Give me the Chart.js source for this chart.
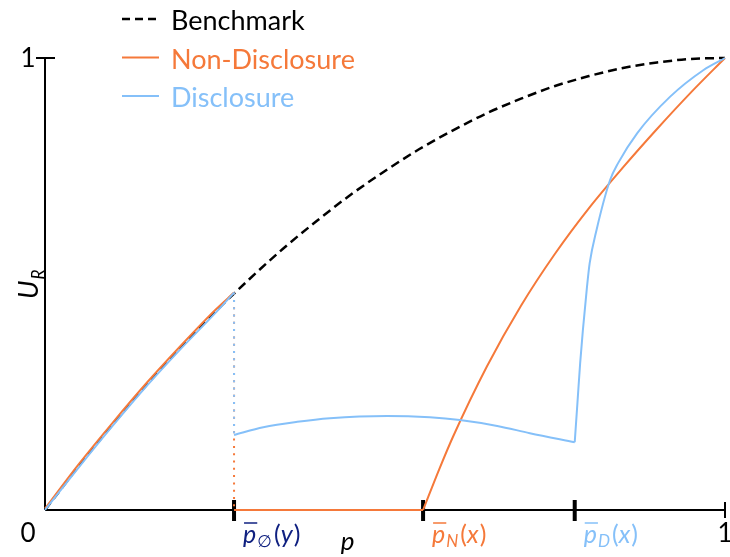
<!DOCTYPE html>
<html><head><meta charset="utf-8">
<script src="https://cdn.jsdelivr.net/npm/chart.js@4/dist/chart.umd.min.js"></script>
<style>html,body{margin:0;padding:0;background:#fff}canvas{display:block}</style>
</head><body>
<canvas id="c" width="730" height="557"></canvas>
<script>
// Benchmark utility curve
const benchmarkP = [0, 0.05, 0.10, 0.15, 0.20, 0.25, 0.30, 0.35, 0.40, 0.45, 0.50, 0.55, 0.60, 0.65, 0.70, 0.75, 0.80, 0.85, 0.90, 0.95, 1.00];
const benchmarkU = [0, 0.098, 0.19, 0.278, 0.36, 0.438, 0.51, 0.578, 0.64, 0.698, 0.75, 0.798, 0.84, 0.878, 0.91, 0.938, 0.96, 0.978, 0.99, 0.998, 1];

// Non-disclosure regime: below the first threshold, and above the second
const nonDisclosureLowP = [0, 0.05, 0.10, 0.15, 0.20, 0.25, 0.278];
const nonDisclosureLowU = [0.003, 0.102, 0.194, 0.282, 0.364, 0.442, 0.481];
const nonDisclosureHighP = [0.556, 0.58, 0.60, 0.65, 0.70, 0.75, 0.80, 0.85, 0.90, 0.95, 1];
const nonDisclosureHighU = [0, 0.091, 0.162, 0.318, 0.452, 0.567, 0.668, 0.758, 0.843, 0.924, 1];

// Disclosure regime: three pieces
const disclosureLowP = [0, 0.05, 0.10, 0.15, 0.20, 0.25, 0.278];
const disclosureLowU = [0, 0.095, 0.187, 0.275, 0.357, 0.435, 0.481];
const disclosureMidP = [0.278, 0.321, 0.371, 0.419, 0.503, 0.566, 0.610, 0.665, 0.713, 0.779];
const disclosureMidU = [0.166, 0.183, 0.195, 0.203, 0.208, 0.205, 0.199, 0.186, 0.170, 0.150];
const disclosureHighP = [0.779, 0.783, 0.787, 0.791, 0.797, 0.801, 0.811, 0.831, 0.843, 0.871, 0.919, 0.968, 1];
const disclosureHighU = [0.150, 0.237, 0.325, 0.398, 0.493, 0.546, 0.619, 0.730, 0.768, 0.834, 0.914, 0.973, 1];

// Threshold positions on the p axis
const thresholdP = [0.278, 0.556, 0.779];
const thresholdSub = ['\u2205', 'N', 'D'];
const thresholdArg = ['y', 'x', 'x'];

const seriesNames = ['Benchmark', 'Non-Disclosure', 'Disclosure'];

const ORANGE = '#F5793A';
const BLUE = '#85C0F9';
const NAVY = '#0F2080';
const FONT = 'Lato, "DejaVu Sans", sans-serif';

const toPoints = (xs, ys) => xs.map((x, i) => ({x, y: ys[i]}));
const last = a => a[a.length - 1];

const solid = (label, pts, color, order) => ({
  label, data: pts, borderColor: color, borderWidth: 2, pointRadius: 0,
  cubicInterpolationMode: 'monotone', clip: false, order
});
const dotted = (label, pts, color, order) => ({
  label, data: pts, borderColor: color, borderWidth: 2, pointRadius: 0,
  borderDash: [2, 5.3], tension: 0, clip: false, order
});

const datasets = [
  // disclosure (drawn on top)
  solid(seriesNames[2], toPoints(disclosureLowP, disclosureLowU), BLUE, 0),
  dotted(seriesNames[2], [{x: thresholdP[0], y: last(disclosureLowU)}, {x: thresholdP[0], y: disclosureMidU[0]}], BLUE, 0),
  solid(seriesNames[2], toPoints(disclosureMidP, disclosureMidU), BLUE, 0),
  solid(seriesNames[2], toPoints(disclosureHighP, disclosureHighU), BLUE, 0),
  // non-disclosure
  solid(seriesNames[1], toPoints(nonDisclosureLowP, nonDisclosureLowU), ORANGE, 1),
  dotted(seriesNames[1], [{x: thresholdP[0], y: last(nonDisclosureLowU)}, {x: thresholdP[0], y: 0}], ORANGE, 1),
  solid(seriesNames[1], [{x: thresholdP[0], y: 0}, {x: thresholdP[1], y: 0}], ORANGE, 1),
  solid(seriesNames[1], toPoints(nonDisclosureHighP, nonDisclosureHighU), ORANGE, 1),
  // benchmark
  {
    label: seriesNames[0], data: toPoints(benchmarkP, benchmarkU),
    borderColor: '#000', borderWidth: 2.5, borderDash: [9, 5], pointRadius: 0,
    cubicInterpolationMode: 'monotone', clip: false, order: 2
  }
];

const decorations = {
  id: 'decorations',
  beforeDatasetsDraw(chart) {
    const {ctx, scales: {x, y}} = chart;
    const x0 = x.getPixelForValue(0), x1 = x.getPixelForValue(1);
    const y0 = y.getPixelForValue(0), y1 = y.getPixelForValue(1);
    ctx.save();
    ctx.strokeStyle = '#000';
    ctx.lineCap = 'butt';
    ctx.lineWidth = 2;
    ctx.beginPath();
    ctx.moveTo(x0, y0); ctx.lineTo(x1, y0);
    ctx.moveTo(x0, y0); ctx.lineTo(x0, y1);
    ctx.moveTo(x0 - 9, y1); ctx.lineTo(x0 + 10, y1);
    ctx.moveTo(x1, y0 - 8); ctx.lineTo(x1, y0 + 8);
    ctx.stroke();
    ctx.lineWidth = 4;
    ctx.beginPath();
    thresholdP.forEach(p => {
      const px = x.getPixelForValue(p);
      ctx.moveTo(px, y0 - 10); ctx.lineTo(px, y0 + 11);
    });
    ctx.stroke();
    ctx.restore();
  },
  afterDraw(chart) {
    const {ctx, scales: {x, y}} = chart;
    const x0 = x.getPixelForValue(0), x1 = x.getPixelForValue(1);
    const y0 = y.getPixelForValue(0), y1 = y.getPixelForValue(1);
    ctx.save();
    ctx.textBaseline = 'alphabetic';

    // numeric tick labels
    ctx.fillStyle = '#000';
    ctx.font = '26px ' + FONT;
    ctx.textAlign = 'center';
    ctx.fillText('0', x0 - 17, y0 + 32);
    ctx.fillText('1', x1, y0 + 32);
    ctx.fillText('1', x0 - 17, y1 + 9);

    // axis titles
    ctx.font = 'italic 26px ' + FONT;
    ctx.fillText('p', x.getPixelForValue(0.445), y0 + 40);
    ctx.save();
    ctx.translate(x0 - 7, y.getPixelForValue(0.5) + 15);
    ctx.rotate(-Math.PI / 2);
    ctx.textAlign = 'left';
    ctx.font = 'italic 27px ' + FONT;
    ctx.fillText('U', 0, 0);
    const uw = ctx.measureText('U').width;
    ctx.font = 'italic 17px ' + FONT;
    ctx.fillText('R', uw + 1, 6);
    ctx.restore();

    // threshold labels
    const colors = [NAVY, ORANGE, BLUE];
    thresholdP.forEach((p, i) => {
      let cx = x.getPixelForValue(p) + 9;
      const base = y0 + 33;
      ctx.fillStyle = colors[i];
      ctx.strokeStyle = colors[i];
      ctx.textAlign = 'left';
      ctx.font = 'italic 25px ' + FONT;
      ctx.fillText('p', cx, base);
      const pw = ctx.measureText('p').width;
      ctx.lineWidth = 1.5;
      ctx.beginPath();
      ctx.moveTo(cx + 1, base - 20); ctx.lineTo(cx + pw + 1, base - 20);
      ctx.stroke();
      cx += pw + 1;
      ctx.font = (i === 0 ? '' : 'italic ') + '17px ' + FONT;
      ctx.fillText(thresholdSub[i], cx, base + 4);
      cx += ctx.measureText(thresholdSub[i]).width + 2;
      ctx.font = '25px ' + FONT;
      ctx.fillText('(', cx, base);
      cx += ctx.measureText('(').width;
      ctx.font = 'italic 25px ' + FONT;
      ctx.fillText(thresholdArg[i], cx, base);
      cx += ctx.measureText(thresholdArg[i]).width + 1;
      ctx.font = '25px ' + FONT;
      ctx.fillText(')', cx, base);
    });

    // legend
    const rows = [
      {name: seriesNames[0], color: '#000', dash: [8, 5], width: 2.5},
      {name: seriesNames[1], color: ORANGE, dash: [], width: 2},
      {name: seriesNames[2], color: BLUE, dash: [], width: 2}
    ];
    rows.forEach((r, i) => {
      const ly = 19 + i * 38.5;
      ctx.strokeStyle = r.color;
      ctx.lineWidth = r.width;
      ctx.setLineDash(r.dash);
      ctx.beginPath();
      ctx.moveTo(122, ly); ctx.lineTo(159, ly);
      ctx.stroke();
      ctx.setLineDash([]);
      ctx.fillStyle = r.color;
      ctx.font = '27px ' + FONT;
      ctx.textAlign = 'left';
      ctx.fillText(r.name, 171, ly + 11);
    });
    ctx.restore();
  }
};

new Chart(document.getElementById('c'), {
  type: 'line',
  data: {datasets},
  options: {
    responsive: false,
    animation: false,
    devicePixelRatio: 1,
    layout: {padding: {left: 45, right: 5, top: 58, bottom: 47}},
    scales: {
      x: {type: 'linear', min: 0, max: 1, display: false},
      y: {type: 'linear', min: 0, max: 1, display: false}
    },
    plugins: {legend: {display: false}, tooltip: {enabled: false}},
    events: []
  },
  plugins: [decorations]
});
</script>
</body></html>
